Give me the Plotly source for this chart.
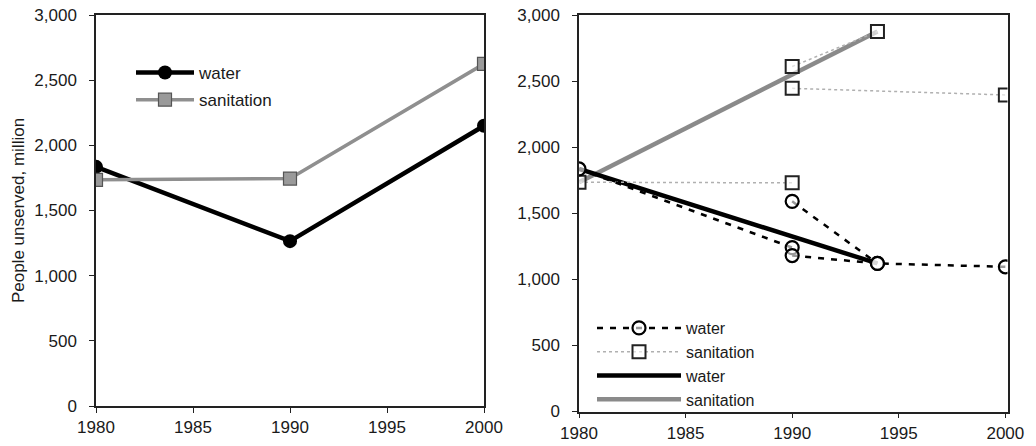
import plotly.graph_objects as go

# ---- Left panel data ----
years_left = [1980, 1990, 2000]
water_left = [1835, 1265, 2150]
sanit_left = [1735, 1745, 2625]

# ---- Right panel data ----
# estimates (segments separated by None)
water_est_x = [1980, 1990, None, 1990, 1994, 2000, None, 1990, 1994]
water_est_y = [1835, 1240, None, 1180, 1120, 1095, None, 1590, 1120]
sanit_est_x = [1980, 1990, None, 1990, 2000, None, 1990, 1994]
sanit_est_y = [1735, 1730, None, 2445, 2395, None, 2610, 2875]
# trends
trend_x = [1980, 1994]
water_trend = [1835, 1120]
sanit_trend = [1735, 2875]

FONT = "Liberation Sans, Arial, sans-serif"
TXT = "#1a1a1a"
FS = 17

fig = go.Figure()

# left
fig.add_trace(go.Scatter(x=years_left, y=water_left, mode="lines+markers", name="water",
                         line=dict(color="#000000", width=4.5),
                         marker=dict(symbol="circle", size=14, color="#000000"),
                         xaxis="x", yaxis="y", legend="legend", legendgroup="a"))
fig.add_trace(go.Scatter(x=years_left, y=sanit_left, mode="lines+markers", name="sanitation",
                         line=dict(color="#8f8f8f", width=3.5),
                         marker=dict(symbol="square", size=13, color="#9a9a9a",
                                     line=dict(color="#555555", width=1.2)),
                         xaxis="x", yaxis="y", legend="legend", legendgroup="b"))

# right
fig.add_trace(go.Scatter(x=trend_x, y=sanit_trend, mode="lines", name="sanitation",
                         line=dict(color="#8a8a8a", width=4.5),
                         xaxis="x2", yaxis="y2", legend="legend2", legendrank=4))
fig.add_trace(go.Scatter(x=trend_x, y=water_trend, mode="lines", name="water",
                         line=dict(color="#000000", width=4.5),
                         xaxis="x2", yaxis="y2", legend="legend2", legendrank=3))
fig.add_trace(go.Scatter(x=sanit_est_x, y=sanit_est_y, mode="lines+markers", name="sanitation",
                         line=dict(color="#b0b0b0", width=1.5, dash="dot"),
                         marker=dict(symbol="square", size=13, color="rgba(255,255,255,0.6)",
                                     line=dict(color="#222222", width=2)),
                         xaxis="x2", yaxis="y2", legend="legend2", legendrank=2))
fig.add_trace(go.Scatter(x=water_est_x, y=water_est_y, mode="lines+markers", name="water",
                         line=dict(color="#000000", width=2.5, dash="6px,7px"),
                         marker=dict(symbol="circle", size=13, color="rgba(255,255,255,0.6)",
                                     line=dict(color="#000000", width=2.2)),
                         xaxis="x2", yaxis="y2", legend="legend2", legendrank=1))

W, H = 1036, 446
axis_common = dict(showgrid=False, zeroline=False, showline=True, linecolor="#222222",
                   linewidth=1.5, mirror=True, ticks="outside", ticklen=5,
                   tickcolor="#222222", tickwidth=1.2,
                   tickfont=dict(family=FONT, size=FS, color=TXT))

fig.update_layout(
    width=W, height=H,
    margin=dict(l=0, r=0, t=0, b=0),
    paper_bgcolor="white", plot_bgcolor="white",
    font=dict(family=FONT, size=FS, color=TXT),
    xaxis=dict(domain=[96 / W, 484 / W], range=[1980, 2000], tick0=1980, dtick=5,
               anchor="y", automargin=False, **axis_common),
    yaxis=dict(domain=[1 - 406 / H, 1 - 15 / H], range=[0, 3000], dtick=500,
               tickformat=",", anchor="x", automargin=False, ticklabelstandoff=9,
               title=dict(text="People unserved, million", font=dict(family=FONT, size=FS, color=TXT),
                          standoff=5),
               **axis_common),
    xaxis2=dict(domain=[579 / W, 1007.5 / W], range=[1980, 2000.1], tick0=1980, dtick=5,
                anchor="y2", automargin=False, **axis_common),
    yaxis2=dict(domain=[1 - 411.5 / H, 1 - 15 / H], range=[0, 3000], dtick=500,
                tickformat=",", anchor="x2", automargin=False, ticklabelstandoff=9,
                **axis_common),
    legend=dict(x=131 / W, y=1 - 55 / H, xanchor="left", yanchor="top",
                bgcolor="rgba(0,0,0,0)", font=dict(family=FONT, size=FS, color=TXT),
                traceorder="grouped", tracegroupgap=2, itemwidth=58),
    legend2=dict(x=592 / W, y=1 - 311 / H, xanchor="left", yanchor="top",
                 bgcolor="rgba(0,0,0,0)", font=dict(family=FONT, size=16, color=TXT),
                 traceorder="normal", itemwidth=84),
)

fig.write_html("out.html", config={"displayModeBar": False},
               post_script="document.body.style.margin='0';document.body.style.padding='0';")
